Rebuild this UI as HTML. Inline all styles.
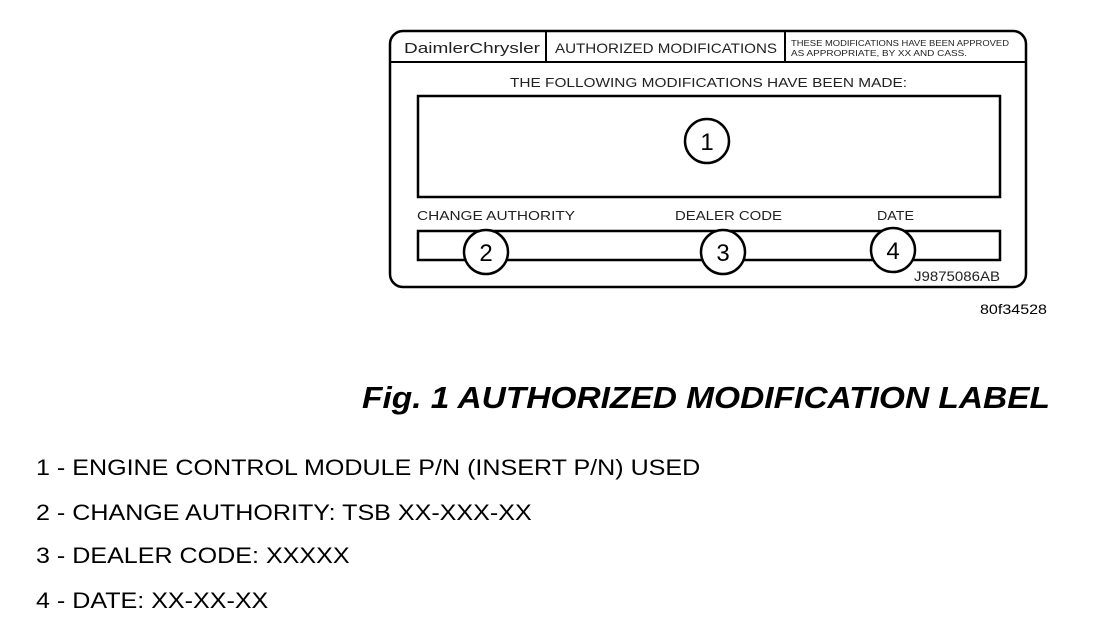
<!DOCTYPE html>
<html><head><meta charset="utf-8"><style>
body{margin:0;background:#fff;width:1120px;height:620px;overflow:hidden}
.t{position:absolute;font-family:"Liberation Sans",sans-serif;color:#000;font-size:22px;white-space:nowrap;transform:scaleX(1.14);transform-origin:left top}
</style></head><body>
<svg width="1120" height="620" style="position:absolute;left:0;top:0" font-family="Liberation Sans, sans-serif">
<rect x="390" y="31" width="636" height="256" rx="13" fill="none" stroke="#000" stroke-width="2.5"/>
<line x1="390" y1="62" x2="1026" y2="62" stroke="#000" stroke-width="2"/>
<line x1="546" y1="31" x2="546" y2="62" stroke="#000" stroke-width="2"/>
<line x1="785" y1="31" x2="785" y2="62" stroke="#000" stroke-width="2"/>
<text x="404" y="53" font-size="15" lengthAdjust="spacingAndGlyphs" textLength="136" fill="#222">DaimlerChrysler</text>
<text x="555" y="53" font-size="14" lengthAdjust="spacingAndGlyphs" textLength="222" fill="#222">AUTHORIZED MODIFICATIONS</text>
<text x="791" y="46" font-size="8.5" lengthAdjust="spacingAndGlyphs" textLength="218" fill="#222">THESE MODIFICATIONS HAVE BEEN APPROVED</text>
<text x="791" y="56" font-size="8.5" lengthAdjust="spacingAndGlyphs" textLength="176" fill="#222">AS APPROPRIATE, BY XX AND CASS.</text>
<text x="510" y="87" font-size="13" lengthAdjust="spacingAndGlyphs" textLength="397" fill="#222">THE FOLLOWING MODIFICATIONS HAVE BEEN MADE:</text>
<rect x="418" y="96" width="582" height="101" fill="none" stroke="#000" stroke-width="2.5"/>
<circle cx="707" cy="141" r="22" fill="#fff" stroke="#000" stroke-width="2.5"/>
<text x="707" y="150" font-size="24" text-anchor="middle">1</text>
<text x="417" y="220" font-size="13" lengthAdjust="spacingAndGlyphs" textLength="158" fill="#222">CHANGE AUTHORITY</text>
<text x="675" y="220" font-size="13" lengthAdjust="spacingAndGlyphs" textLength="107" fill="#222">DEALER CODE</text>
<text x="877" y="220" font-size="13" lengthAdjust="spacingAndGlyphs" textLength="37" fill="#222">DATE</text>
<rect x="418" y="231" width="582" height="29" fill="none" stroke="#000" stroke-width="2.5"/>
<circle cx="486" cy="252" r="22" fill="#fff" stroke="#000" stroke-width="2.5"/>
<text x="486" y="261" font-size="24" text-anchor="middle">2</text>
<circle cx="723" cy="252" r="22" fill="#fff" stroke="#000" stroke-width="2.5"/>
<text x="723" y="261" font-size="24" text-anchor="middle">3</text>
<circle cx="893" cy="250" r="22" fill="#fff" stroke="#000" stroke-width="2.5"/>
<text x="893" y="259" font-size="24" text-anchor="middle">4</text>
<text x="914" y="281" font-size="14" lengthAdjust="spacingAndGlyphs" textLength="86" fill="#222">J9875086AB</text>
<text x="980" y="314" font-size="14" lengthAdjust="spacingAndGlyphs" textLength="67" fill="#000">80f34528</text>
<text x="362" y="408" font-size="31" font-weight="bold" font-style="italic" lengthAdjust="spacingAndGlyphs" textLength="688">Fig. 1 AUTHORIZED MODIFICATION LABEL</text>
</svg>
<div class="t" style="left:36px;top:455px">1 - ENGINE CONTROL MODULE P/N (INSERT P/N) USED</div>
<div class="t" style="left:36px;top:500px">2 - CHANGE AUTHORITY: TSB XX-XXX-XX</div>
<div class="t" style="left:36px;top:543px">3 - DEALER CODE: XXXXX</div>
<div class="t" style="left:36px;top:588px">4 - DATE: XX-XX-XX</div>
</body></html>
